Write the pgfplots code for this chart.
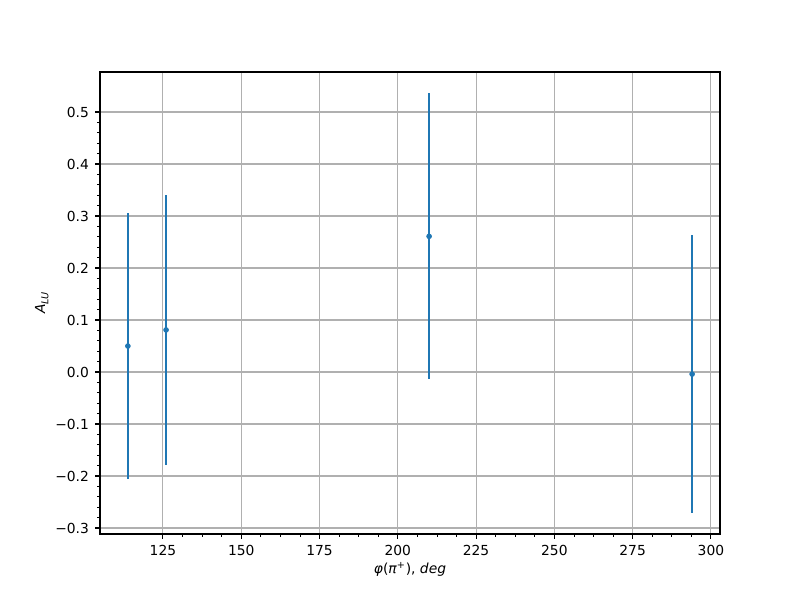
\documentclass[border=0pt]{standalone}
\usepackage{fontspec}
\setmainfont{DejaVu Sans}
\usepackage{pgfplots}
\pgfplotsset{compat=1.18}
\definecolor{czero}{HTML}{1F77B4}
\definecolor{gridc}{HTML}{B0B0B0}
\begin{document}
\fontsize{10}{12}\selectfont
\begin{tikzpicture}
\begin{axis}[
  scale only axis,
  width=6.2in, height=4.62in,
  xmin=104.9, xmax=302.9,
  ymin=-0.3115, ymax=0.577,
  xtick={125,150,175,200,225,250,275,300},
  xticklabels={125,150,175,200,225,250,275,300},
  ytick={-0.3,-0.2,-0.1,0,0.1,0.2,0.3,0.4,0.5},
  yticklabels={−0.3,−0.2,−0.1,0.0,0.1,0.2,0.3,0.4,0.5},
  minor x tick num=3,
  minor y tick num=4,
  tick align=outside,
  major tick length=3.5pt,
  minor tick length=2pt,
  every tick/.style={black, line width=0.8pt},
  minor tick style={line width=0.6pt},
  xtick pos=bottom, ytick pos=left,
  grid=major,
  major grid style={gridc, line width=0.8pt},
  axis line style={line width=0.8pt},
  tick label style={font=\fontsize{10}{12}\selectfont},
  xticklabel style={yshift=-1pt},
  yticklabel style={xshift=-1pt},
  xlabel={\textit{φ}(\textit{π}\textsuperscript{+}), \textit{deg}},
  ylabel={\textit{A}\raisebox{-0.45ex}{\fontsize{7}{8}\selectfont\textit{LU}}},
  label style={font=\fontsize{10}{12}\selectfont},
  xlabel style={yshift=2pt},
  ylabel style={yshift=-2pt},
]
\addplot[only marks, mark=*, mark size=1.8pt, color=czero,
  error bars/.cd, y dir=both, y explicit,
  error bar style={line width=1.5pt, color=czero},
  error mark=none]
  table[x=x, y=y, y error=e] {
x y e
113.8 0.050 0.255
126.0 0.081 0.259
210.0 0.261 0.275
294.0 -0.004 0.267
};
\end{axis}
\path (current axis.south west) ++(-1in,-0.66in) coordinate (bl);
\path (current axis.north east) ++(0.8in,0.72in) coordinate (tr);
\path[use as bounding box] (bl) rectangle (tr);
\end{tikzpicture}
\end{document}
